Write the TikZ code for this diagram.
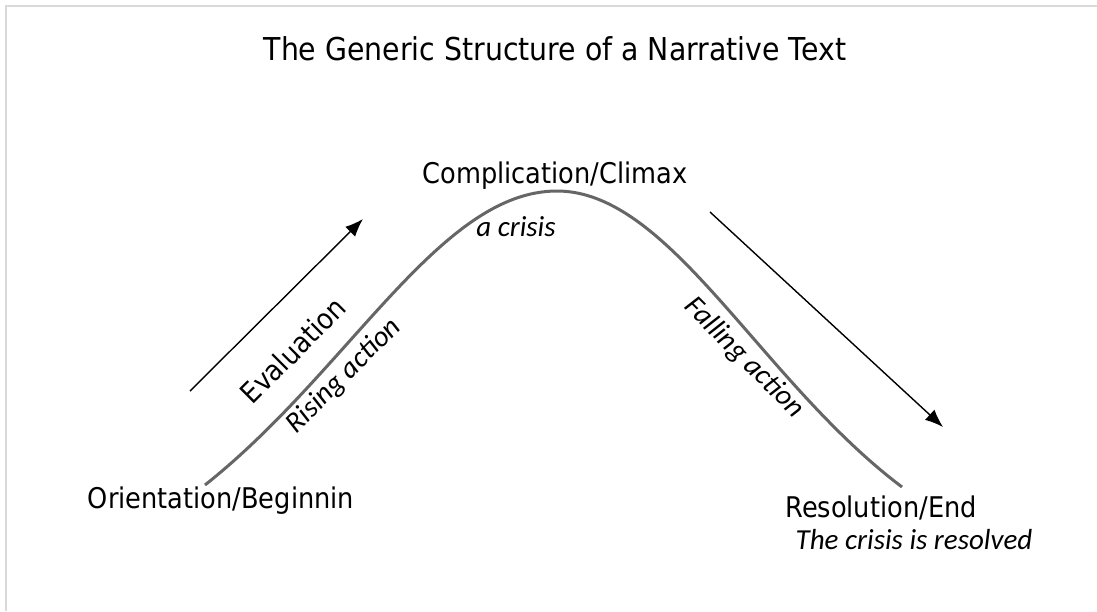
\documentclass[tikz,border=0pt]{standalone}
\usepackage{fontspec}
\setmainfont{DejaVu Sans}[FakeStretch=0.9]
\newfontfamily\calfont{Carlito}
\usetikzlibrary{arrows.meta}
\tikzset{
  frame/.style={draw=black!15, line width=1.5pt},
  hump/.style={draw=black!60, line width=3pt},
  dirarrow/.style={draw=black, line width=1.4pt, -{Latex[length=18pt,width=14pt]}},
  lbl/.style={inner sep=0pt, anchor=base, font=\fontsize{28.5}{32}\selectfont},
  itlbl/.style={inner sep=0pt, anchor=base, font=\calfont\itshape\fontsize{29}{33}\selectfont},
}
\begin{document}
\begin{tikzpicture}[x=1pt,y=-1pt]
\useasboundingbox[fill=white] (0,0) rectangle (1097,611);
\draw[frame] (1097,6) -- (6,6) -- (6,611);

\node[inner sep=0pt, anchor=base, font=\fontsize{31.5}{36}\selectfont] (title) at (555,60) {The Generic Structure of a Narrative Text};

\coordinate (start) at (205,485);
\coordinate (peak) at (557,191);
\coordinate (end) at (902,487);
\draw[hump] (start) .. controls (350,370) and (440,191) .. (peak)
                    .. controls (670,191) and (760,380) .. (end);

\node[lbl] (climax) at (555,183) {Complication/Climax};
\node[itlbl] (crisis) at (516,236) {a crisis};
\node[lbl] (orient) at (221,508) {Orientation/Beginnin};
\node[lbl] (resol) at (881,517) {Resolution/End};
\node[itlbl] (resolved) at (914,549) {The crisis is resolved};

\coordinate (a1s) at (190,391);
\coordinate (a1e) at (363,219);
\draw[dirarrow] (a1s) -- (a1e);
\coordinate (a2s) at (710,212);
\coordinate (a2e) at (943,427);
\draw[dirarrow] (a2s) -- (a2e);

\node[inner sep=0pt, rotate=45, font=\fontsize{28.5}{32}\selectfont] (eval) at (293,350) {Evaluation};
\node[inner sep=0pt, rotate=45, font=\calfont\itshape\fontsize{29}{33}\selectfont] (rising) at (344,376) {Rising action};
\node[inner sep=0pt, rotate=-45, font=\calfont\itshape\fontsize{29}{33}\selectfont] (falling) at (744,358) {Falling action};
\end{tikzpicture}
\end{document}
